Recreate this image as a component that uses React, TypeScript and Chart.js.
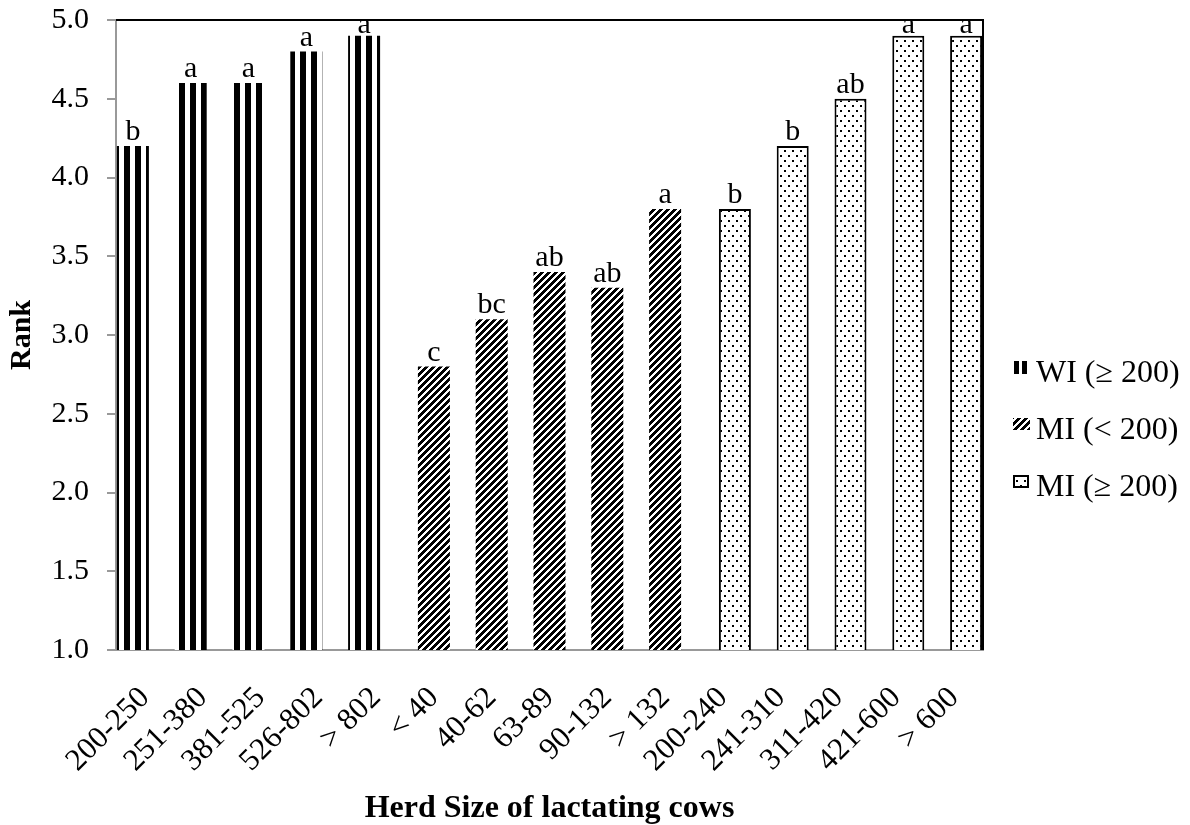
import React, { useEffect, useRef } from 'react';
import { Chart, registerables } from 'chart.js';

Chart.register(...registerables);

const categories = [
  '200-250', '251-380', '381-525', '526-802', '> 802',
  '< 40', '40-62', '63-89', '90-132', '> 132',
  '200-240', '241-310', '311-420', '421-600', '> 600',
];

const seriesNames = ['WI (\u2265 200)', 'MI (< 200)', 'MI (\u2265 200)'];

const wiValues = [4.2, 4.6, 4.6, 4.8, 4.9];
const miSmallValues = [2.8, 3.1, 3.4, 3.3, 3.8];
const miLargeValues = [3.8, 4.2, 4.5, 4.9, 4.9];

const wiLetters = ['b', 'a', 'a', 'a', 'a'];
const miSmallLetters = ['c', 'bc', 'ab', 'ab', 'a'];
const miLargeLetters = ['b', 'b', 'ab', 'a', 'a'];

const yTicks = [1.0, 1.5, 2.0, 2.5, 3.0, 3.5, 4.0, 4.5, 5.0];

const FONT = '"Liberation Serif", "Times New Roman", serif';

function place(values: number[], start: number): (number | null)[] {
  const out: (number | null)[] = categories.map(() => null);
  values.forEach((v, i) => { out[start + i] = v; });
  return out;
}
function placeLetters(letters: string[], start: number): string[] {
  const out: string[] = categories.map(() => '');
  letters.forEach((v, i) => { out[start + i] = v; });
  return out;
}

function makeStripePattern(): CanvasPattern {
  const c = document.createElement('canvas');
  c.width = 11; c.height = 4;
  const g = c.getContext('2d')!;
  g.fillStyle = '#fff'; g.fillRect(0, 0, 11, 4);
  g.fillStyle = '#000'; g.fillRect(3, 0, 6, 4);
  return g.createPattern(c, 'repeat')!;
}

function makeHatchPattern(): CanvasPattern {
  const p = 7;
  const c = document.createElement('canvas');
  c.width = p; c.height = p;
  const g = c.getContext('2d')!;
  const img = g.createImageData(p, p);
  for (let y = 0; y < p; y++) {
    for (let x = 0; x < p; x++) {
      const black = ((x + y) % p) < 4;
      const o = (y * p + x) * 4;
      const v = black ? 0 : 255;
      img.data[o] = v; img.data[o + 1] = v; img.data[o + 2] = v; img.data[o + 3] = 255;
    }
  }
  g.putImageData(img, 0, 0);
  return g.createPattern(c, 'repeat')!;
}

function makeDotPattern(): CanvasPattern {
  const c = document.createElement('canvas');
  c.width = 8; c.height = 10;
  const g = c.getContext('2d')!;
  g.fillStyle = '#fff'; g.fillRect(0, 0, 8, 10);
  g.fillStyle = '#000';
  g.fillRect(0, 0, 2, 2);
  g.fillRect(4, 5, 2, 2);
  return g.createPattern(c, 'repeat')!;
}

export default function App() {
  const ref = useRef<HTMLCanvasElement | null>(null);

  useEffect(() => {
    const canvas = ref.current;
    if (!canvas) return;
    const stripe = makeStripePattern();
    const hatch = makeHatchPattern();
    const dots = makeDotPattern();
    const lettersByDataset = [
      placeLetters(wiLetters, 0),
      placeLetters(miSmallLetters, 5),
      placeLetters(miLargeLetters, 10),
    ];

    const letterPlugin = {
      id: 'letters',
      afterDatasetsDraw(chart: any) {
        const ctx = chart.ctx;
        ctx.save();
        ctx.font = `30px ${FONT}`;
        ctx.fillStyle = '#000';
        ctx.textAlign = 'center';
        ctx.textBaseline = 'alphabetic';
        chart.data.datasets.forEach((ds: any, di: number) => {
          const meta = chart.getDatasetMeta(di);
          meta.data.forEach((bar: any, i: number) => {
            if (ds.data[i] == null) return;
            const y = Math.max(bar.y - 6, chart.chartArea.top + 13);
            ctx.fillText(lettersByDataset[di][i], bar.x, y);
          });
        });
        ctx.restore();
      },
    };

    const framePlugin = {
      id: 'frame',
      afterDraw(chart: any) {
        const { ctx, chartArea: a } = chart;
        ctx.save();
        ctx.strokeStyle = '#000';
        ctx.lineWidth = 2;
        ctx.beginPath();
        ctx.moveTo(a.left, a.top);
        ctx.lineTo(a.right, a.top);
        ctx.lineTo(a.right, a.bottom);
        ctx.stroke();
        ctx.restore();
      },
    };

    const legendPlugin = {
      id: 'customLegend',
      afterDraw(chart: any) {
        const ctx = chart.ctx;
        const a = chart.chartArea;
        const iconX = a.right + 30;
        const textX = a.right + 53;
        const baselines = [382, 439, 496];
        ctx.save();
        ctx.font = `32px ${FONT}`;
        ctx.fillStyle = '#000';
        ctx.textAlign = 'left';
        ctx.textBaseline = 'alphabetic';
        seriesNames.forEach((name, i) => {
          const b = baselines[i];
          const top = b - 21;
          if (i === 0) {
            ctx.fillStyle = '#000';
            ctx.fillRect(iconX + 1, top, 5, 13);
            ctx.fillRect(iconX + 9, top, 5, 13);
          } else if (i === 1) {
            ctx.fillStyle = hatch;
            ctx.fillRect(iconX, top, 17, 12);
          } else {
            ctx.fillStyle = dots;
            ctx.fillRect(iconX, top, 16, 13);
            ctx.strokeStyle = '#000';
            ctx.lineWidth = 2;
            ctx.strokeRect(iconX + 1, top + 1, 14, 11);
          }
          ctx.fillStyle = '#000';
          ctx.fillText(name, textX, b);
        });
        ctx.restore();
      },
    };

    const chart = new Chart(canvas, {
      type: 'bar',
      data: {
        labels: categories,
        datasets: [
          {
            label: seriesNames[0],
            data: place(wiValues, 0),
            backgroundColor: stripe,
            borderWidth: 0,
          },
          {
            label: seriesNames[1],
            data: place(miSmallValues, 5),
            backgroundColor: hatch,
            borderWidth: 0,
          },
          {
            label: seriesNames[2],
            data: place(miLargeValues, 10),
            backgroundColor: dots,
            borderColor: '#000',
            borderWidth: 2,
            borderSkipped: 'start',
          },
        ] as any,
      },
      options: {
        responsive: false,
        animation: false,
        events: [],
        categoryPercentage: 36 / 57.8,
        barPercentage: 32 / 12,
        layout: { padding: { top: 20, right: 207, left: 0, bottom: 0 } },
        plugins: {
          legend: { display: false },
          tooltip: { enabled: false },
        },
        scales: {
          x: {
            type: 'category',
            offset: true,
            grid: { display: false, drawTicks: false },
            border: { display: true, color: '#999', width: 2 },
            ticks: {
              autoSkip: false,
              maxRotation: 45,
              minRotation: 45,
              padding: 30,
              color: '#000',
              font: { family: FONT, size: 31 },
            },
            title: {
              display: true,
              text: 'Herd Size of lactating cows',
              color: '#000',
              font: { family: FONT, size: 32, weight: 'bold', lineHeight: 1 },
              padding: { top: 0, bottom: 0 },
            },
            afterFit(scale: any) {
              scale.height = 175;
              scale.paddingLeft = 0;
              scale.paddingRight = 0;
            },
          },
          y: {
            type: 'linear',
            min: 1,
            max: 5,
            afterBuildTicks(scale: any) {
              scale.ticks = yTicks.map((v) => ({ value: v }));
            },
            grid: {
              drawOnChartArea: false,
              drawTicks: true,
              tickLength: 9,
              color: '#999',
              lineWidth: 2,
            },
            border: { display: true, color: '#999', width: 2 },
            ticks: {
              padding: 18,
              color: '#000',
              font: { family: FONT, size: 30 },
              callback: (v: any) => Number(v).toFixed(1),
            },
            title: {
              display: true,
              text: 'Rank',
              color: '#000',
              font: { family: FONT, size: 30, weight: 'bold', lineHeight: 1 },
              padding: { top: 7, bottom: 0 },
            },
            afterFit(scale: any) {
              scale.width = 116;
              scale.paddingTop = 0;
              scale.paddingBottom = 0;
            },
          },
        },
      } as any,
      plugins: [letterPlugin, framePlugin, legendPlugin],
    });

    return () => { chart.destroy(); };
  }, []);

  return (
    <div style={{ position: 'fixed', left: 0, top: 0, width: 1190, height: 825, background: '#fff', overflow: 'hidden' }}>
      <canvas ref={ref} width={1190} height={825} style={{ display: 'block', width: 1190, height: 825 }} />
    </div>
  );
}
